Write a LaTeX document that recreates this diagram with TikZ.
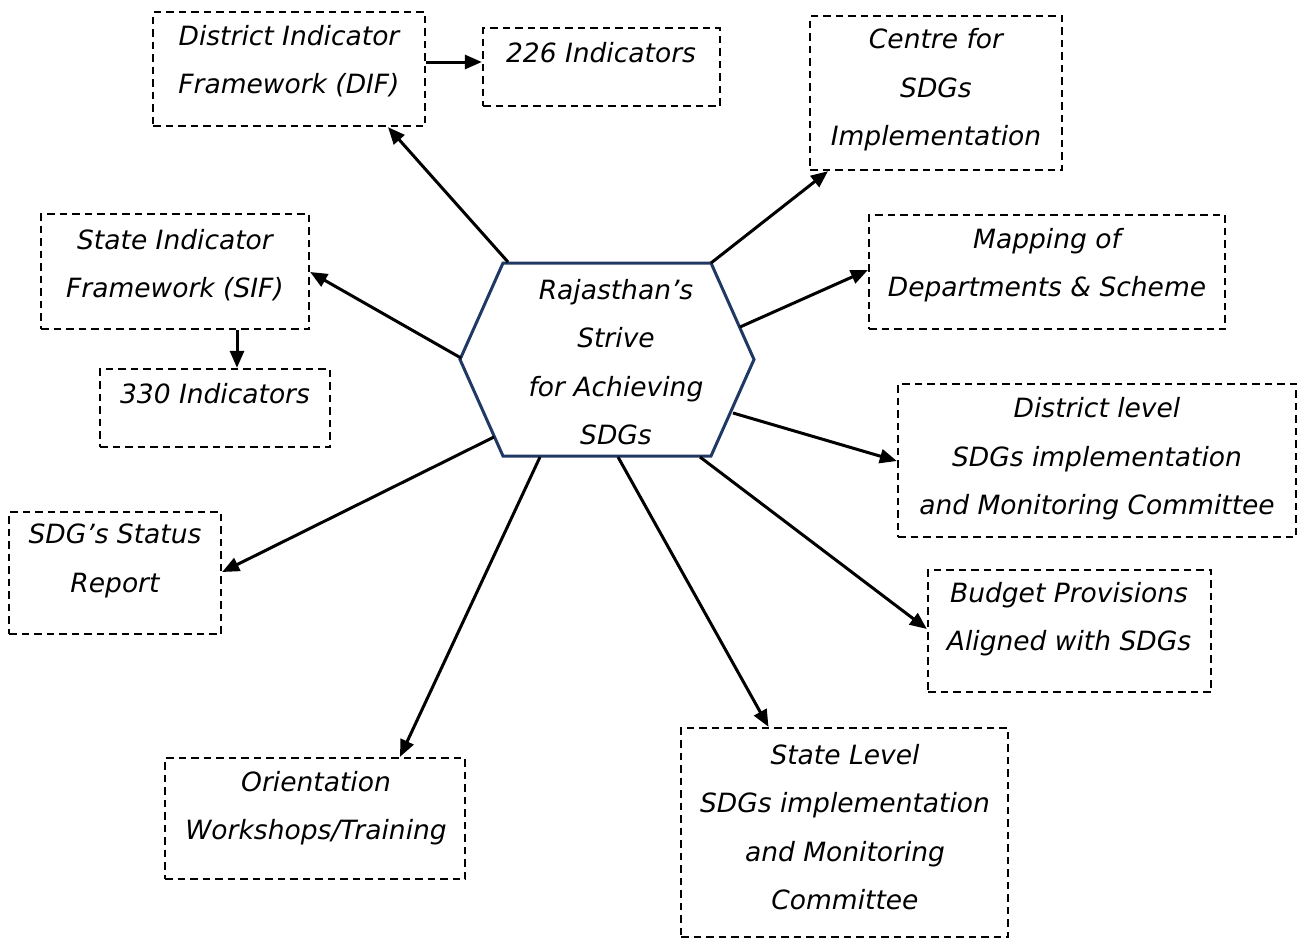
\documentclass[tikz,border=0pt]{standalone}
\usepackage{fontspec}
\setmainfont{DejaVu Sans}
\usetikzlibrary{arrows.meta,calc}
\definecolor{navy}{HTML}{203864}
\newcommand{\apos}{\char"0027\relax}
\tikzset{
  box/.style={draw=black, line width=2.3pt, dash pattern=on 7.5pt off 5pt, inner sep=0pt},
  txt/.style={align=center, font=\fontsize{26.5}{48.5}\selectfont\itshape, inner sep=0pt},
  arr/.style={line width=3pt, -{Triangle[length=17pt,width=14pt]}},
}
\begin{document}
\begin{tikzpicture}[x=1pt,y=-1pt]
\useasboundingbox (0,0) rectangle (1303,940);
% boxes
\node[box, minimum width=272pt, minimum height=114pt] (dif) at (289,69) {};
\node[txt] (diftxt) at (289,61) {District Indicator\\Framework (DIF)};
\node[box, minimum width=237pt, minimum height=78pt] (i226) at (601.5,67) {};
\node[txt] (i226txt) at (601,53) {226 Indicators};
\node[box, minimum width=252pt, minimum height=154pt] (csi) at (936,93) {};
\node[txt] (csitxt) at (936,90) {Centre for\\SDGs\\Implementation};
\node[box, minimum width=356pt, minimum height=114pt] (map) at (1047,272) {};
\node[txt] (maptxt) at (1047,265) {Mapping of\\Departments \& Scheme};
\node[box, minimum width=268pt, minimum height=115pt] (sif) at (175,271.5) {};
\node[txt] (siftxt) at (175,265) {State Indicator\\Framework (SIF)};
\node[box, minimum width=230pt, minimum height=78pt] (i330) at (215,408) {};
\node[txt] (i330txt) at (215,394) {330 Indicators};
\node[box, minimum width=398pt, minimum height=153pt] (dlc) at (1097,460.5) {};
\node[txt] (dlctxt) at (1097,459) {District level\\SDGs implementation\\and Monitoring Committee};
\node[box, minimum width=212pt, minimum height=122pt] (ssr) at (115,573) {};
\node[txt] (ssrtxt) at (115,561) {SDG\apos s Status\\Report};
\node[box, minimum width=283pt, minimum height=122pt] (bud) at (1069.5,631) {};
\node[txt] (budtxt) at (1069,619) {Budget Provisions\\Aligned with SDGs};
\node[box, minimum width=300pt, minimum height=121pt] (ori) at (315,818.5) {};
\node[txt] (oritxt) at (316,808) {Orientation\\Workshops/Training};
\node[box, minimum width=327pt, minimum height=209pt] (slc) at (844.5,832.5) {};
\node[txt] (slctxt) at (845,827) {State Level\\SDGs implementation\\and Monitoring\\Committee};
% hexagon
\coordinate (htl) at (503,263);
\coordinate (htr) at (711,263);
\coordinate (hr) at (754,359.5);
\coordinate (hbr) at (711,456);
\coordinate (hbl) at (503,456);
\coordinate (hl) at (460,359.5);
\fill[white] (htl) -- (htr) -- (hr) -- (hbr) -- (hbl) -- (hl) -- cycle;
\draw[navy, line width=3pt, line join=miter] (htl) -- (htr) -- (hr) -- (hbr) -- (hbl) -- (hl) -- cycle;
\node[txt] (hex) at (616,362) {Rajasthan\apos s\\Strive\\for Achieving\\SDGs};
% connector start points on hexagon
\coordinate (s1) at (508,262);
\coordinate (s2) at (711,263);
\coordinate (s3) at (740,327);
\coordinate (s4) at (461,358);
\coordinate (s5) at (733,413);
\coordinate (s6) at (494,437);
\coordinate (s7) at (700,457);
\coordinate (s8) at (540,457);
\coordinate (s9) at (618,457);
% connectors
\draw[arr] (s1) -- ([xshift=99pt]dif.south);
\draw[arr] (dif.east |- 0,62) -- (i226.west |- 0,62);
\draw[arr] (s2) -- ([xshift=-108pt]csi.south);
\draw[arr] (s3) -- ([yshift=2pt]map.west);
\draw[arr] (s4) -- (sif.east |- 0,272);
\draw[arr] (sif.south -| 237,0) -- (i330.north -| 237,0);
\draw[arr] (s5) -- (dlc.west |- 0,461);
\draw[arr] (s6) -- (ssr.east |- 0,572);
\draw[arr] (s7) -- (bud.west |- 0,629);
\draw[arr] (s8) -- ([xshift=85pt]ori.north);
\draw[arr] (s9) -- ([xshift=-76pt]slc.north);
\end{tikzpicture}
\end{document}
